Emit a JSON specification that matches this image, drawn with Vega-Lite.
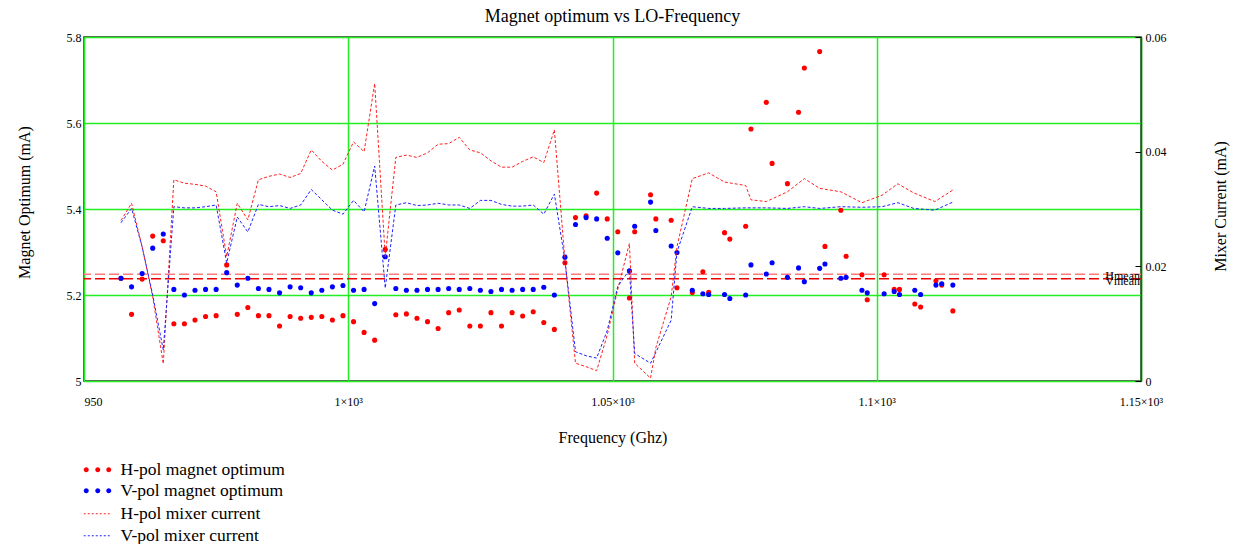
{
  "$schema": "https://vega.github.io/schema/vega-lite/v6.json",
  "autosize": {"type": "none"},
  "padding": {"left": 84, "top": 37, "right": 96, "bottom": 163},
  "width": 1057,
  "height": 344,
  "config": {
    "font": "Liberation Serif",
    "view": {"stroke": "#222222", "strokeWidth": 1.5},
    "axis": {"labelFont": "Liberation Serif", "titleFont": "Liberation Serif", "labelColor": "#000000", "titleColor": "#000000", "titleFontWeight": "normal", "labelFontSize": 12, "titleFontSize": 16},
    "legend": {"labelFont": "Liberation Serif", "labelFontSize": 17.5, "labelColor": "#000000", "labelLimit": 400}
  },
  "title": {"text": "Magnet optimum vs LO-Frequency", "font": "Liberation Serif", "fontSize": 18, "fontWeight": "normal", "color": "#000000", "anchor": "middle", "offset": 5},
  "datasets": {
    "points": [
      {"freq": 957, "pol": "H-pol magnet optimum", "mag": 5.239},
      {"freq": 959, "pol": "H-pol magnet optimum", "mag": 5.155},
      {"freq": 961, "pol": "H-pol magnet optimum", "mag": 5.237},
      {"freq": 963, "pol": "H-pol magnet optimum", "mag": 5.337},
      {"freq": 965, "pol": "H-pol magnet optimum", "mag": 5.326},
      {"freq": 967, "pol": "H-pol magnet optimum", "mag": 5.133},
      {"freq": 969, "pol": "H-pol magnet optimum", "mag": 5.133},
      {"freq": 971, "pol": "H-pol magnet optimum", "mag": 5.142},
      {"freq": 973, "pol": "H-pol magnet optimum", "mag": 5.150},
      {"freq": 975, "pol": "H-pol magnet optimum", "mag": 5.152},
      {"freq": 977, "pol": "H-pol magnet optimum", "mag": 5.270},
      {"freq": 979, "pol": "H-pol magnet optimum", "mag": 5.155},
      {"freq": 981, "pol": "H-pol magnet optimum", "mag": 5.171},
      {"freq": 983, "pol": "H-pol magnet optimum", "mag": 5.152},
      {"freq": 985, "pol": "H-pol magnet optimum", "mag": 5.152},
      {"freq": 987, "pol": "H-pol magnet optimum", "mag": 5.128},
      {"freq": 989, "pol": "H-pol magnet optimum", "mag": 5.150},
      {"freq": 991, "pol": "H-pol magnet optimum", "mag": 5.146},
      {"freq": 993, "pol": "H-pol magnet optimum", "mag": 5.148},
      {"freq": 995, "pol": "H-pol magnet optimum", "mag": 5.150},
      {"freq": 997, "pol": "H-pol magnet optimum", "mag": 5.142},
      {"freq": 999, "pol": "H-pol magnet optimum", "mag": 5.152},
      {"freq": 1001, "pol": "H-pol magnet optimum", "mag": 5.138},
      {"freq": 1003, "pol": "H-pol magnet optimum", "mag": 5.113},
      {"freq": 1005, "pol": "H-pol magnet optimum", "mag": 5.095},
      {"freq": 1007, "pol": "H-pol magnet optimum", "mag": 5.306},
      {"freq": 1009, "pol": "H-pol magnet optimum", "mag": 5.154},
      {"freq": 1011, "pol": "H-pol magnet optimum", "mag": 5.156},
      {"freq": 1013, "pol": "H-pol magnet optimum", "mag": 5.146},
      {"freq": 1015, "pol": "H-pol magnet optimum", "mag": 5.138},
      {"freq": 1017, "pol": "H-pol magnet optimum", "mag": 5.122},
      {"freq": 1019, "pol": "H-pol magnet optimum", "mag": 5.159},
      {"freq": 1021, "pol": "H-pol magnet optimum", "mag": 5.165},
      {"freq": 1023, "pol": "H-pol magnet optimum", "mag": 5.128},
      {"freq": 1025, "pol": "H-pol magnet optimum", "mag": 5.128},
      {"freq": 1027, "pol": "H-pol magnet optimum", "mag": 5.159},
      {"freq": 1029, "pol": "H-pol magnet optimum", "mag": 5.128},
      {"freq": 1031, "pol": "H-pol magnet optimum", "mag": 5.159},
      {"freq": 1033, "pol": "H-pol magnet optimum", "mag": 5.151},
      {"freq": 1035, "pol": "H-pol magnet optimum", "mag": 5.161},
      {"freq": 1037, "pol": "H-pol magnet optimum", "mag": 5.136},
      {"freq": 1039, "pol": "H-pol magnet optimum", "mag": 5.120},
      {"freq": 1041, "pol": "H-pol magnet optimum", "mag": 5.275},
      {"freq": 1043, "pol": "H-pol magnet optimum", "mag": 5.380},
      {"freq": 1045, "pol": "H-pol magnet optimum", "mag": 5.384},
      {"freq": 1047, "pol": "H-pol magnet optimum", "mag": 5.437},
      {"freq": 1049, "pol": "H-pol magnet optimum", "mag": 5.377},
      {"freq": 1051, "pol": "H-pol magnet optimum", "mag": 5.347},
      {"freq": 1053.2, "pol": "H-pol magnet optimum", "mag": 5.193},
      {"freq": 1054.2, "pol": "H-pol magnet optimum", "mag": 5.347},
      {"freq": 1057.2, "pol": "H-pol magnet optimum", "mag": 5.433},
      {"freq": 1058.2, "pol": "H-pol magnet optimum", "mag": 5.377},
      {"freq": 1061.1, "pol": "H-pol magnet optimum", "mag": 5.374},
      {"freq": 1062.2, "pol": "H-pol magnet optimum", "mag": 5.217},
      {"freq": 1065.1, "pol": "H-pol magnet optimum", "mag": 5.206},
      {"freq": 1067.1, "pol": "H-pol magnet optimum", "mag": 5.254},
      {"freq": 1068.2, "pol": "H-pol magnet optimum", "mag": 5.206},
      {"freq": 1071.2, "pol": "H-pol magnet optimum", "mag": 5.345},
      {"freq": 1072.2, "pol": "H-pol magnet optimum", "mag": 5.330},
      {"freq": 1075.2, "pol": "H-pol magnet optimum", "mag": 5.360},
      {"freq": 1076.2, "pol": "H-pol magnet optimum", "mag": 5.586},
      {"freq": 1079.1, "pol": "H-pol magnet optimum", "mag": 5.648},
      {"freq": 1080.2, "pol": "H-pol magnet optimum", "mag": 5.506},
      {"freq": 1083.1, "pol": "H-pol magnet optimum", "mag": 5.459},
      {"freq": 1085.2, "pol": "H-pol magnet optimum", "mag": 5.625},
      {"freq": 1086.3, "pol": "H-pol magnet optimum", "mag": 5.728},
      {"freq": 1089.2, "pol": "H-pol magnet optimum", "mag": 5.766},
      {"freq": 1090.2, "pol": "H-pol magnet optimum", "mag": 5.313},
      {"freq": 1093.2, "pol": "H-pol magnet optimum", "mag": 5.397},
      {"freq": 1094.2, "pol": "H-pol magnet optimum", "mag": 5.290},
      {"freq": 1097.2, "pol": "H-pol magnet optimum", "mag": 5.247},
      {"freq": 1098.2, "pol": "H-pol magnet optimum", "mag": 5.189},
      {"freq": 1101.4, "pol": "H-pol magnet optimum", "mag": 5.247},
      {"freq": 1103.3, "pol": "H-pol magnet optimum", "mag": 5.213},
      {"freq": 1104.3, "pol": "H-pol magnet optimum", "mag": 5.213},
      {"freq": 1107.2, "pol": "H-pol magnet optimum", "mag": 5.179},
      {"freq": 1108.3, "pol": "H-pol magnet optimum", "mag": 5.172},
      {"freq": 1111.2, "pol": "H-pol magnet optimum", "mag": 5.233},
      {"freq": 1112.3, "pol": "H-pol magnet optimum", "mag": 5.223},
      {"freq": 1114.4, "pol": "H-pol magnet optimum", "mag": 5.163},
      {"freq": 957, "pol": "V-pol magnet optimum", "mag": 5.239},
      {"freq": 959, "pol": "V-pol magnet optimum", "mag": 5.219},
      {"freq": 961, "pol": "V-pol magnet optimum", "mag": 5.250},
      {"freq": 963, "pol": "V-pol magnet optimum", "mag": 5.309},
      {"freq": 965, "pol": "V-pol magnet optimum", "mag": 5.342},
      {"freq": 967, "pol": "V-pol magnet optimum", "mag": 5.213},
      {"freq": 969, "pol": "V-pol magnet optimum", "mag": 5.200},
      {"freq": 971, "pol": "V-pol magnet optimum", "mag": 5.211},
      {"freq": 973, "pol": "V-pol magnet optimum", "mag": 5.213},
      {"freq": 975, "pol": "V-pol magnet optimum", "mag": 5.213},
      {"freq": 977, "pol": "V-pol magnet optimum", "mag": 5.252},
      {"freq": 979, "pol": "V-pol magnet optimum", "mag": 5.223},
      {"freq": 981, "pol": "V-pol magnet optimum", "mag": 5.239},
      {"freq": 983, "pol": "V-pol magnet optimum", "mag": 5.215},
      {"freq": 985, "pol": "V-pol magnet optimum", "mag": 5.213},
      {"freq": 987, "pol": "V-pol magnet optimum", "mag": 5.205},
      {"freq": 989, "pol": "V-pol magnet optimum", "mag": 5.219},
      {"freq": 991, "pol": "V-pol magnet optimum", "mag": 5.217},
      {"freq": 993, "pol": "V-pol magnet optimum", "mag": 5.205},
      {"freq": 995, "pol": "V-pol magnet optimum", "mag": 5.211},
      {"freq": 997, "pol": "V-pol magnet optimum", "mag": 5.219},
      {"freq": 999, "pol": "V-pol magnet optimum", "mag": 5.222},
      {"freq": 1001, "pol": "V-pol magnet optimum", "mag": 5.211},
      {"freq": 1003, "pol": "V-pol magnet optimum", "mag": 5.213},
      {"freq": 1005, "pol": "V-pol magnet optimum", "mag": 5.180},
      {"freq": 1007, "pol": "V-pol magnet optimum", "mag": 5.289},
      {"freq": 1009, "pol": "V-pol magnet optimum", "mag": 5.215},
      {"freq": 1011, "pol": "V-pol magnet optimum", "mag": 5.211},
      {"freq": 1013, "pol": "V-pol magnet optimum", "mag": 5.211},
      {"freq": 1015, "pol": "V-pol magnet optimum", "mag": 5.213},
      {"freq": 1017, "pol": "V-pol magnet optimum", "mag": 5.213},
      {"freq": 1019, "pol": "V-pol magnet optimum", "mag": 5.215},
      {"freq": 1021, "pol": "V-pol magnet optimum", "mag": 5.213},
      {"freq": 1023, "pol": "V-pol magnet optimum", "mag": 5.215},
      {"freq": 1025, "pol": "V-pol magnet optimum", "mag": 5.211},
      {"freq": 1027, "pol": "V-pol magnet optimum", "mag": 5.208},
      {"freq": 1029, "pol": "V-pol magnet optimum", "mag": 5.213},
      {"freq": 1031, "pol": "V-pol magnet optimum", "mag": 5.211},
      {"freq": 1033, "pol": "V-pol magnet optimum", "mag": 5.213},
      {"freq": 1035, "pol": "V-pol magnet optimum", "mag": 5.213},
      {"freq": 1037, "pol": "V-pol magnet optimum", "mag": 5.218},
      {"freq": 1039, "pol": "V-pol magnet optimum", "mag": 5.200},
      {"freq": 1041, "pol": "V-pol magnet optimum", "mag": 5.288},
      {"freq": 1043, "pol": "V-pol magnet optimum", "mag": 5.364},
      {"freq": 1045, "pol": "V-pol magnet optimum", "mag": 5.380},
      {"freq": 1047, "pol": "V-pol magnet optimum", "mag": 5.377},
      {"freq": 1049, "pol": "V-pol magnet optimum", "mag": 5.332},
      {"freq": 1051, "pol": "V-pol magnet optimum", "mag": 5.298},
      {"freq": 1053.2, "pol": "V-pol magnet optimum", "mag": 5.256},
      {"freq": 1054.2, "pol": "V-pol magnet optimum", "mag": 5.360},
      {"freq": 1057.2, "pol": "V-pol magnet optimum", "mag": 5.416},
      {"freq": 1058.2, "pol": "V-pol magnet optimum", "mag": 5.350},
      {"freq": 1061.1, "pol": "V-pol magnet optimum", "mag": 5.314},
      {"freq": 1062.2, "pol": "V-pol magnet optimum", "mag": 5.299},
      {"freq": 1065.1, "pol": "V-pol magnet optimum", "mag": 5.211},
      {"freq": 1067.1, "pol": "V-pol magnet optimum", "mag": 5.203},
      {"freq": 1068.2, "pol": "V-pol magnet optimum", "mag": 5.201},
      {"freq": 1071.2, "pol": "V-pol magnet optimum", "mag": 5.201},
      {"freq": 1072.2, "pol": "V-pol magnet optimum", "mag": 5.192},
      {"freq": 1075.2, "pol": "V-pol magnet optimum", "mag": 5.200},
      {"freq": 1076.2, "pol": "V-pol magnet optimum", "mag": 5.270},
      {"freq": 1079.1, "pol": "V-pol magnet optimum", "mag": 5.249},
      {"freq": 1080.2, "pol": "V-pol magnet optimum", "mag": 5.275},
      {"freq": 1083.1, "pol": "V-pol magnet optimum", "mag": 5.241},
      {"freq": 1085.2, "pol": "V-pol magnet optimum", "mag": 5.263},
      {"freq": 1086.3, "pol": "V-pol magnet optimum", "mag": 5.231},
      {"freq": 1089.2, "pol": "V-pol magnet optimum", "mag": 5.262},
      {"freq": 1090.2, "pol": "V-pol magnet optimum", "mag": 5.272},
      {"freq": 1093.2, "pol": "V-pol magnet optimum", "mag": 5.239},
      {"freq": 1094.2, "pol": "V-pol magnet optimum", "mag": 5.241},
      {"freq": 1097.2, "pol": "V-pol magnet optimum", "mag": 5.211},
      {"freq": 1098.2, "pol": "V-pol magnet optimum", "mag": 5.205},
      {"freq": 1101.4, "pol": "V-pol magnet optimum", "mag": 5.203},
      {"freq": 1103.3, "pol": "V-pol magnet optimum", "mag": 5.208},
      {"freq": 1104.3, "pol": "V-pol magnet optimum", "mag": 5.201},
      {"freq": 1107.2, "pol": "V-pol magnet optimum", "mag": 5.211},
      {"freq": 1108.3, "pol": "V-pol magnet optimum", "mag": 5.201},
      {"freq": 1111.2, "pol": "V-pol magnet optimum", "mag": 5.223},
      {"freq": 1112.3, "pol": "V-pol magnet optimum", "mag": 5.226},
      {"freq": 1114.4, "pol": "V-pol magnet optimum", "mag": 5.223}
    ],
    "currents": [
      {"freq": 957, "pol": "H-pol mixer current", "cur": 0.0280},
      {"freq": 959, "pol": "H-pol mixer current", "cur": 0.0310},
      {"freq": 961, "pol": "H-pol mixer current", "cur": 0.0234},
      {"freq": 963, "pol": "H-pol mixer current", "cur": 0.0147},
      {"freq": 965, "pol": "H-pol mixer current", "cur": 0.0030},
      {"freq": 967, "pol": "H-pol mixer current", "cur": 0.0351},
      {"freq": 969, "pol": "H-pol mixer current", "cur": 0.0345},
      {"freq": 971, "pol": "H-pol mixer current", "cur": 0.0343},
      {"freq": 973, "pol": "H-pol mixer current", "cur": 0.0340},
      {"freq": 975, "pol": "H-pol mixer current", "cur": 0.0330},
      {"freq": 977, "pol": "H-pol mixer current", "cur": 0.0217},
      {"freq": 979, "pol": "H-pol mixer current", "cur": 0.0310},
      {"freq": 981, "pol": "H-pol mixer current", "cur": 0.0281},
      {"freq": 983, "pol": "H-pol mixer current", "cur": 0.0351},
      {"freq": 985, "pol": "H-pol mixer current", "cur": 0.0357},
      {"freq": 987, "pol": "H-pol mixer current", "cur": 0.0361},
      {"freq": 989, "pol": "H-pol mixer current", "cur": 0.0355},
      {"freq": 991, "pol": "H-pol mixer current", "cur": 0.0362},
      {"freq": 993, "pol": "H-pol mixer current", "cur": 0.0403},
      {"freq": 995, "pol": "H-pol mixer current", "cur": 0.0383},
      {"freq": 997, "pol": "H-pol mixer current", "cur": 0.0368},
      {"freq": 999, "pol": "H-pol mixer current", "cur": 0.0378},
      {"freq": 1001, "pol": "H-pol mixer current", "cur": 0.0417},
      {"freq": 1003, "pol": "H-pol mixer current", "cur": 0.0400},
      {"freq": 1005, "pol": "H-pol mixer current", "cur": 0.0519},
      {"freq": 1007, "pol": "H-pol mixer current", "cur": 0.0217},
      {"freq": 1009, "pol": "H-pol mixer current", "cur": 0.0390},
      {"freq": 1011, "pol": "H-pol mixer current", "cur": 0.0394},
      {"freq": 1013, "pol": "H-pol mixer current", "cur": 0.0390},
      {"freq": 1015, "pol": "H-pol mixer current", "cur": 0.0398},
      {"freq": 1017, "pol": "H-pol mixer current", "cur": 0.0413},
      {"freq": 1019, "pol": "H-pol mixer current", "cur": 0.0414},
      {"freq": 1021, "pol": "H-pol mixer current", "cur": 0.0425},
      {"freq": 1023, "pol": "H-pol mixer current", "cur": 0.0403},
      {"freq": 1025, "pol": "H-pol mixer current", "cur": 0.0398},
      {"freq": 1027, "pol": "H-pol mixer current", "cur": 0.0384},
      {"freq": 1029, "pol": "H-pol mixer current", "cur": 0.0373},
      {"freq": 1031, "pol": "H-pol mixer current", "cur": 0.0373},
      {"freq": 1033, "pol": "H-pol mixer current", "cur": 0.0383},
      {"freq": 1035, "pol": "H-pol mixer current", "cur": 0.0391},
      {"freq": 1037, "pol": "H-pol mixer current", "cur": 0.0381},
      {"freq": 1039, "pol": "H-pol mixer current", "cur": 0.0438},
      {"freq": 1041, "pol": "H-pol mixer current", "cur": 0.0211},
      {"freq": 1043, "pol": "H-pol mixer current", "cur": 0.0031},
      {"freq": 1045, "pol": "H-pol mixer current", "cur": 0.0025},
      {"freq": 1047, "pol": "H-pol mixer current", "cur": 0.0018},
      {"freq": 1049, "pol": "H-pol mixer current", "cur": 0.0080},
      {"freq": 1051, "pol": "H-pol mixer current", "cur": 0.0160},
      {"freq": 1053.2, "pol": "H-pol mixer current", "cur": 0.0240},
      {"freq": 1054.2, "pol": "H-pol mixer current", "cur": 0.0031},
      {"freq": 1057.2, "pol": "H-pol mixer current", "cur": 0.0005},
      {"freq": 1058.2, "pol": "H-pol mixer current", "cur": 0.0058},
      {"freq": 1061.1, "pol": "H-pol mixer current", "cur": 0.0147},
      {"freq": 1062.2, "pol": "H-pol mixer current", "cur": 0.0234},
      {"freq": 1065.1, "pol": "H-pol mixer current", "cur": 0.0353},
      {"freq": 1068.2, "pol": "H-pol mixer current", "cur": 0.0363},
      {"freq": 1071.2, "pol": "H-pol mixer current", "cur": 0.0347},
      {"freq": 1075.2, "pol": "H-pol mixer current", "cur": 0.0341},
      {"freq": 1076.2, "pol": "H-pol mixer current", "cur": 0.0316},
      {"freq": 1079.1, "pol": "H-pol mixer current", "cur": 0.0313},
      {"freq": 1083.1, "pol": "H-pol mixer current", "cur": 0.0330},
      {"freq": 1086.3, "pol": "H-pol mixer current", "cur": 0.0353},
      {"freq": 1089.2, "pol": "H-pol mixer current", "cur": 0.0336},
      {"freq": 1093.2, "pol": "H-pol mixer current", "cur": 0.0330},
      {"freq": 1097.2, "pol": "H-pol mixer current", "cur": 0.0311},
      {"freq": 1101, "pol": "H-pol mixer current", "cur": 0.0324},
      {"freq": 1104, "pol": "H-pol mixer current", "cur": 0.0344},
      {"freq": 1107, "pol": "H-pol mixer current", "cur": 0.0328},
      {"freq": 1111, "pol": "H-pol mixer current", "cur": 0.0313},
      {"freq": 1114.4, "pol": "H-pol mixer current", "cur": 0.0333},
      {"freq": 957, "pol": "V-pol mixer current", "cur": 0.0276},
      {"freq": 959, "pol": "V-pol mixer current", "cur": 0.0301},
      {"freq": 961, "pol": "V-pol mixer current", "cur": 0.0234},
      {"freq": 963, "pol": "V-pol mixer current", "cur": 0.0150},
      {"freq": 965, "pol": "V-pol mixer current", "cur": 0.0054},
      {"freq": 967, "pol": "V-pol mixer current", "cur": 0.0304},
      {"freq": 969, "pol": "V-pol mixer current", "cur": 0.0302},
      {"freq": 971, "pol": "V-pol mixer current", "cur": 0.0302},
      {"freq": 973, "pol": "V-pol mixer current", "cur": 0.0304},
      {"freq": 975, "pol": "V-pol mixer current", "cur": 0.0307},
      {"freq": 977, "pol": "V-pol mixer current", "cur": 0.0206},
      {"freq": 979, "pol": "V-pol mixer current", "cur": 0.0286},
      {"freq": 981, "pol": "V-pol mixer current", "cur": 0.0260},
      {"freq": 983, "pol": "V-pol mixer current", "cur": 0.0308},
      {"freq": 985, "pol": "V-pol mixer current", "cur": 0.0304},
      {"freq": 987, "pol": "V-pol mixer current", "cur": 0.0306},
      {"freq": 989, "pol": "V-pol mixer current", "cur": 0.0301},
      {"freq": 991, "pol": "V-pol mixer current", "cur": 0.0307},
      {"freq": 993, "pol": "V-pol mixer current", "cur": 0.0334},
      {"freq": 995, "pol": "V-pol mixer current", "cur": 0.0316},
      {"freq": 997, "pol": "V-pol mixer current", "cur": 0.0298},
      {"freq": 999, "pol": "V-pol mixer current", "cur": 0.0291},
      {"freq": 1001, "pol": "V-pol mixer current", "cur": 0.0315},
      {"freq": 1003, "pol": "V-pol mixer current", "cur": 0.0295},
      {"freq": 1005, "pol": "V-pol mixer current", "cur": 0.0375},
      {"freq": 1007, "pol": "V-pol mixer current", "cur": 0.0162},
      {"freq": 1009, "pol": "V-pol mixer current", "cur": 0.0307},
      {"freq": 1011, "pol": "V-pol mixer current", "cur": 0.0311},
      {"freq": 1013, "pol": "V-pol mixer current", "cur": 0.0306},
      {"freq": 1015, "pol": "V-pol mixer current", "cur": 0.0307},
      {"freq": 1017, "pol": "V-pol mixer current", "cur": 0.0310},
      {"freq": 1019, "pol": "V-pol mixer current", "cur": 0.0307},
      {"freq": 1021, "pol": "V-pol mixer current", "cur": 0.0307},
      {"freq": 1023, "pol": "V-pol mixer current", "cur": 0.0301},
      {"freq": 1025, "pol": "V-pol mixer current", "cur": 0.0315},
      {"freq": 1027, "pol": "V-pol mixer current", "cur": 0.0315},
      {"freq": 1029, "pol": "V-pol mixer current", "cur": 0.0308},
      {"freq": 1031, "pol": "V-pol mixer current", "cur": 0.0305},
      {"freq": 1033, "pol": "V-pol mixer current", "cur": 0.0305},
      {"freq": 1035, "pol": "V-pol mixer current", "cur": 0.0307},
      {"freq": 1037, "pol": "V-pol mixer current", "cur": 0.0291},
      {"freq": 1039, "pol": "V-pol mixer current", "cur": 0.0326},
      {"freq": 1041, "pol": "V-pol mixer current", "cur": 0.0211},
      {"freq": 1043, "pol": "V-pol mixer current", "cur": 0.0051},
      {"freq": 1045, "pol": "V-pol mixer current", "cur": 0.0044},
      {"freq": 1047, "pol": "V-pol mixer current", "cur": 0.0040},
      {"freq": 1049, "pol": "V-pol mixer current", "cur": 0.0088},
      {"freq": 1051, "pol": "V-pol mixer current", "cur": 0.0165},
      {"freq": 1053.2, "pol": "V-pol mixer current", "cur": 0.0194},
      {"freq": 1054.2, "pol": "V-pol mixer current", "cur": 0.0048},
      {"freq": 1057.2, "pol": "V-pol mixer current", "cur": 0.0031},
      {"freq": 1058.2, "pol": "V-pol mixer current", "cur": 0.0050},
      {"freq": 1061.1, "pol": "V-pol mixer current", "cur": 0.0106},
      {"freq": 1062.2, "pol": "V-pol mixer current", "cur": 0.0225},
      {"freq": 1065.1, "pol": "V-pol mixer current", "cur": 0.0304},
      {"freq": 1068.2, "pol": "V-pol mixer current", "cur": 0.0301},
      {"freq": 1071.2, "pol": "V-pol mixer current", "cur": 0.0301},
      {"freq": 1075.2, "pol": "V-pol mixer current", "cur": 0.0302},
      {"freq": 1079.1, "pol": "V-pol mixer current", "cur": 0.0302},
      {"freq": 1083.1, "pol": "V-pol mixer current", "cur": 0.0301},
      {"freq": 1086.3, "pol": "V-pol mixer current", "cur": 0.0304},
      {"freq": 1089.2, "pol": "V-pol mixer current", "cur": 0.0301},
      {"freq": 1093.2, "pol": "V-pol mixer current", "cur": 0.0304},
      {"freq": 1097.2, "pol": "V-pol mixer current", "cur": 0.0303},
      {"freq": 1101, "pol": "V-pol mixer current", "cur": 0.0304},
      {"freq": 1104, "pol": "V-pol mixer current", "cur": 0.0311},
      {"freq": 1107, "pol": "V-pol mixer current", "cur": 0.0301},
      {"freq": 1111, "pol": "V-pol mixer current", "cur": 0.0298},
      {"freq": 1114.4, "pol": "V-pol mixer current", "cur": 0.0312}
    ],
    "means": [
      {"name": "Hmean", "val": 5.248, "xpos": 1150},
      {"name": "Vmean", "val": 5.238, "xpos": 1150}
    ]
  },
  "resolve": {"scale": {"y": "independent"}},
  "layer": [
    {
      "layer": [
        {
          "data": {"name": "means"},
          "mark": {"type": "rule", "strokeWidth": 1.5, "strokeDash": [10, 4]},
          "encoding": {
            "y": {"field": "val", "type": "quantitative"},
            "color": {"field": "name", "type": "nominal", "scale": {"domain": ["Hmean", "Vmean"], "range": ["#ff7a7a", "#ee0000"]}, "legend": null}
          }
        },
        {
          "data": {"name": "means"},
          "mark": {"type": "text", "align": "right", "baseline": "middle", "dy": 2, "dx": -1, "fontSize": 12, "font": "Liberation Serif", "color": "#000000"},
          "encoding": {
            "x": {"field": "xpos", "type": "quantitative"},
            "y": {"field": "val", "type": "quantitative"},
            "text": {"field": "name"}
          }
        },
        {
          "data": {"name": "points"},
          "mark": {"type": "point", "filled": true, "size": 26, "opacity": 1, "strokeWidth": 0},
          "encoding": {
            "x": {
              "field": "freq", "type": "quantitative",
              "scale": {"domain": [950, 1150], "nice": false, "zero": false},
              "axis": {
                "values": [950, 1000, 1050, 1100, 1150],
                "labelExpr": "datum.value == 950 ? '950' : (datum.value / 1000) + '×10³'",
                "ticks": false, "domain": false,
                "grid": true, "gridColor": "#22ee22", "gridWidth": 1.5, "gridOpacity": 1,
                "labelPadding": 15,
                "labelAlign": {"condition": {"test": "datum.value == 950", "value": "left"}, "value": "center"},
                "title": "Frequency (Ghz)",
                "titleY": 61, "titleBaseline": "alphabetic"
              }
            },
            "y": {
              "field": "mag", "type": "quantitative",
              "scale": {"domain": [5, 5.8], "nice": false, "zero": false},
              "axis": {
                "orient": "left",
                "values": [5, 5.2, 5.4, 5.6, 5.8],
                "format": ".1~f",
                "ticks": false, "domain": false,
                "grid": true, "gridColor": "#22ee22", "gridWidth": 1.5, "gridOpacity": 1,
                "labelPadding": 3,
                "labelBaseline": "middle",
                "title": "Magnet Optimum (mA)",
                "titleAngle": -90, "titleX": -55, "titleY": 165, "titleAlign": "center", "titleBaseline": "alphabetic"
              }
            },
            "fill": {
              "field": "pol", "type": "nominal",
              "scale": {"domain": ["H-pol magnet optimum", "V-pol magnet optimum"], "range": ["#ff0000", "#0000ff"]},
              "legend": {
                "title": null, "orient": "none", "legendX": 5, "legendY": 424,
                "symbolType": "M-2.8,0a0.5,0.5 0 1,0 1.0,0a0.5,0.5 0 1,0 -1.0,0Z M-0.5,0a0.5,0.5 0 1,0 1.0,0a0.5,0.5 0 1,0 -1.0,0Z M1.7,0a0.5,0.5 0 1,0 1.0,0a0.5,0.5 0 1,0 -1.0,0Z",
                "symbolSize": 100, "symbolStrokeWidth": 0, "labelOffset": 14, "rowPadding": 2, "padding": 0
              }
            }
          }
        }
      ]
    },
    {
      "data": {"name": "currents"},
      "mark": {"type": "line", "strokeWidth": 1, "strokeDash": [3, 2]},
      "encoding": {
        "x": {"field": "freq", "type": "quantitative"},
        "y": {
          "field": "cur", "type": "quantitative",
          "scale": {"domain": [0, 0.06], "nice": false, "zero": false},
          "axis": {
            "orient": "right",
            "values": [0, 0.02, 0.04, 0.06],
            "format": ".2~f",
            "ticks": true, "tickSize": -6, "tickColor": "#000000",
            "domain": true, "domainColor": "#1f5f1f", "domainWidth": 1.5,
            "grid": false,
            "labelPadding": 10,
            "labelBaseline": "middle",
            "title": "Mixer Current (mA)",
            "titleAngle": -90, "titleX": 84, "titleY": 169, "titleAlign": "center", "titleBaseline": "alphabetic"
          }
        },
        "stroke": {
          "field": "pol", "type": "nominal",
          "scale": {"domain": ["H-pol mixer current", "V-pol mixer current"], "range": ["#ff2020", "#2020ff"]},
          "legend": {
            "title": null, "orient": "none", "legendX": 5, "legendY": 468,
            "symbolType": "M-2.8,0L2.8,0",
            "symbolSize": 100, "symbolStrokeWidth": 1, "symbolDash": [2, 2], "labelOffset": 14, "rowPadding": 3, "padding": 0
          }
        }
      }
    }
  ]
}
